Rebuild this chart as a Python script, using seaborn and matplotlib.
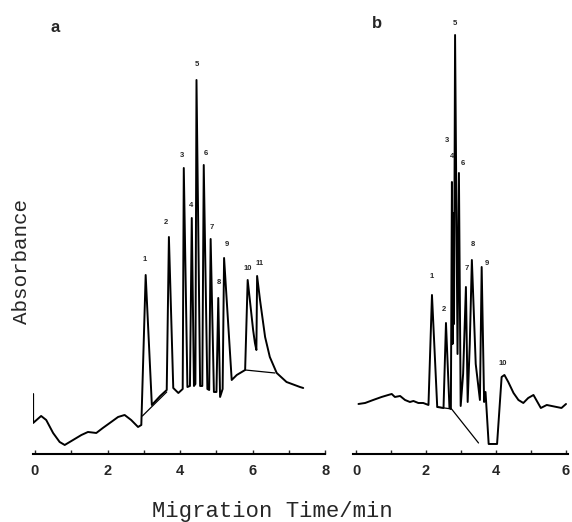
import matplotlib
matplotlib.use("Agg")
import matplotlib.pyplot as plt
import seaborn as sns

# panel a trace (time in min, absorbance in arbitrary units)
a_time = [-0.05, -0.05, 0.17, 0.31, 0.50, 0.68, 0.82, 1.05, 1.28, 1.46, 1.69, 1.87, 2.10,
          2.29, 2.47, 2.65, 2.84, 2.93,
          3.05, 3.22, 3.45, 3.63,
          3.69, 3.81, 3.95, 4.07,
          4.10, 4.20, 4.27,
          4.32, 4.38, 4.42,
          4.45, 4.55, 4.61,
          4.65, 4.75, 4.80,
          4.84, 4.93, 5.00,
          5.05, 5.10, 5.17,
          5.21, 5.42, 5.56, 5.79,
          5.86, 6.01, 6.06, 6.10, 6.12, 6.20, 6.34, 6.47, 6.66, 6.93, 7.30, 7.39]
a_abs = [0.60, 0.31, 0.38, 0.34, 0.21, 0.12, 0.09, 0.14, 0.19, 0.22, 0.21, 0.26, 0.32,
         0.37, 0.39, 0.34, 0.27, 0.29,
         1.79, 0.49, 0.58, 0.64,
         2.17, 0.66, 0.61, 0.65,
         2.86, 0.67, 0.68,
         2.36, 0.68, 0.70,
         3.74, 0.68, 0.68,
         2.89, 0.65, 0.64,
         2.15, 0.62, 0.62,
         1.56, 0.57, 0.65,
         1.96, 0.74, 0.79, 0.84,
         1.74, 1.24, 1.11, 1.04, 1.78, 1.54, 1.17, 0.97, 0.81, 0.72, 0.67, 0.66]
a_base1_time = [2.96, 3.63]
a_base1_abs = [0.38, 0.62]
a_base2_time = [5.79, 6.61]
a_base2_abs = [0.84, 0.81]

a_peak_labels = ["1", "2", "3", "4", "5", "6", "7", "8", "9", "10", "11"]
a_label_time = [3.03, 3.61, 4.06, 4.29, 4.47, 4.71, 4.88, 5.06, 5.29, 5.85, 6.20]
a_label_abs = [1.91, 2.28, 2.95, 2.45, 3.86, 2.97, 2.23, 1.68, 2.06, 1.82, 1.87]

# panel b trace
b_time = [0.07, 0.26, 0.49, 0.73, 0.92, 1.02, 1.11, 1.26, 1.40, 1.54, 1.64, 1.78, 1.92, 2.07,
          2.17, 2.32, 2.50, 2.57, 2.67, 2.71,
          2.74, 2.76, 2.78, 2.80, 2.83, 2.90, 2.94, 2.99, 3.06,
          3.14, 3.19, 3.25, 3.31, 3.42, 3.54, 3.59, 3.66, 3.70, 3.79, 4.03,
          4.16, 4.24, 4.35, 4.50, 4.64, 4.78, 4.92, 5.07, 5.28, 5.45, 5.73, 5.87, 6.00]
b_abs = [0.50, 0.51, 0.54, 0.57, 0.59, 0.60, 0.57, 0.58, 0.54, 0.52, 0.53, 0.51, 0.51, 0.49,
         1.59, 0.47, 0.46, 1.31, 0.46, 0.45,
         2.72, 1.10, 2.41, 1.30, 4.19, 1.00, 2.81, 0.48, 0.80,
         1.67, 0.52, 1.10, 1.94, 0.90, 0.54, 1.87, 0.52, 0.62, 0.10, 0.10,
         0.77, 0.79, 0.72, 0.61, 0.54, 0.51, 0.56, 0.59, 0.46, 0.49, 0.47, 0.46, 0.50]
b_base_time = [2.32, 2.73, 3.50]
b_base_abs = [0.47, 0.45, 0.11]

b_peak_labels = ["1", "2", "3", "4", "5", "6", "7", "8", "9", "10"]
b_label_time = [2.16, 2.52, 2.59, 2.75, 2.83, 3.04, 3.16, 3.35, 3.75, 4.19]
b_label_abs = [1.74, 1.41, 3.10, 2.94, 4.27, 2.87, 1.82, 2.06, 1.87, 0.87]

a_ticks = list(range(0, 9))
b_ticks = list(range(0, 7))

sns.set_style("white")
plt.rcParams['font.family'] = ['Liberation Sans', 'DejaVu Sans']

fig = plt.figure(figsize=(5.72, 5.22), dpi=100)
ax_a = fig.add_axes([0.0573, 0.1303, 0.5115, 0.8429])
ax_b = fig.add_axes([0.6163, 0.1303, 0.3763, 0.8429])


def draw_panel(ax, t, y, bases, labels, lt, ly, ticks, xlim):
    sns.lineplot(x=t, y=y, sort=False, estimator=None, color="black", lw=1.4, ax=ax)
    for bt, by in bases:
        sns.lineplot(x=bt, y=by, sort=False, estimator=None, color="black", lw=0.9, ax=ax)
    for lab, x, yy in zip(labels, lt, ly):
        ax.text(x, yy, lab, ha="center", va="bottom", fontsize=5.5, fontweight="bold")
    ax.set_xlim(*xlim)
    ax.set_ylim(0, 4.4)
    ax.set_xticks(ticks)
    ax.set_xticklabels([str(v) if v % 2 == 0 else "" for v in ticks],
                       fontsize=10.5, fontweight="bold")
    ax.set_yticks([])
    ax.tick_params(axis="x", direction="in", length=3, width=1, pad=7, bottom=True)
    for s in ["top", "left", "right"]:
        ax.spines[s].set_visible(False)
    ax.spines["bottom"].set_linewidth(1.5)
    ax.spines["bottom"].set_color("black")
    ax.set_xlabel("")
    ax.set_ylabel("")
    ax.patch.set_alpha(0)


draw_panel(ax_a, a_time, a_abs,
           [(a_base1_time, a_base1_abs), (a_base2_time, a_base2_abs)],
           a_peak_labels, a_label_time, a_label_abs, a_ticks, (-0.06, 8.0))
draw_panel(ax_b, b_time, b_abs, [(b_base_time, b_base_abs)],
           b_peak_labels, b_label_time, b_label_abs, b_ticks, (-0.1, 6.05))

fig.text(55 / 572, 1 - 28 / 522, "a", fontsize=12, fontweight="bold", ha="center", va="center")
fig.text(377 / 572, 1 - 24 / 522, "b", fontsize=12, fontweight="bold", ha="center", va="center")
fig.text(22 / 572, 1 - 262 / 522, "Absorbance", rotation=90, fontsize=15,
         family="Liberation Mono", ha="center", va="center")
fig.text(272 / 572, 1 - 511 / 522, "Migration Time/min", fontsize=16,
         family="Liberation Mono", ha="center", va="center")

fig.savefig("out.png", dpi=100)
